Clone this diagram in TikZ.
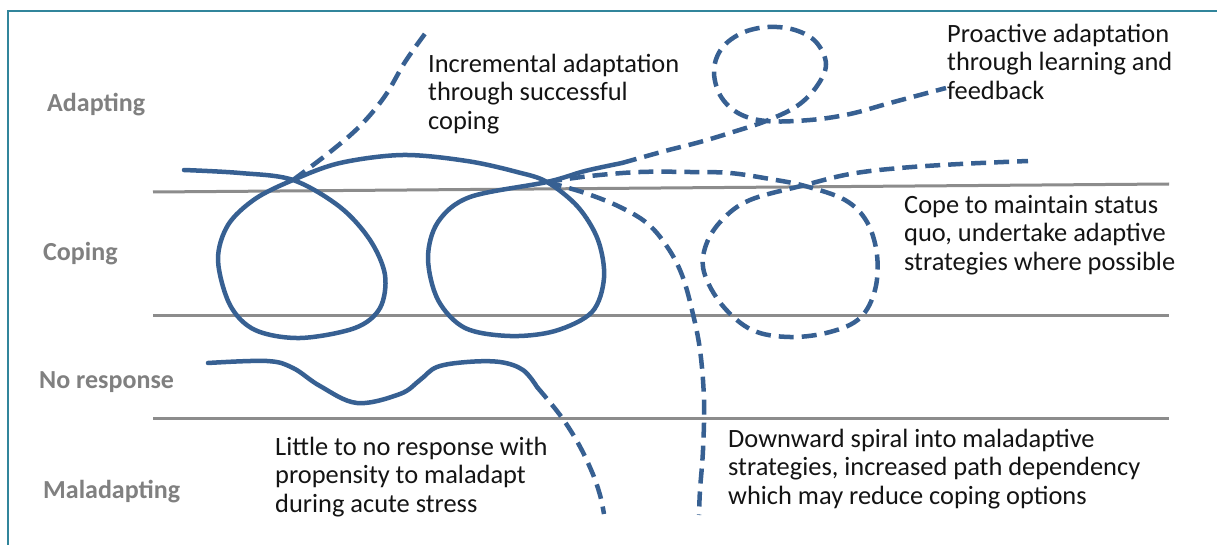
\documentclass[tikz,border=0pt]{standalone}
\usepackage{fontspec}
\setmainfont{Carlito}
\definecolor{curve}{RGB}{55,96,146}
\definecolor{band}{RGB}{140,140,140}
\definecolor{framec}{RGB}{49,133,155}
\definecolor{lab}{RGB}{128,128,128}
\definecolor{ink}{RGB}{20,20,20}
\begin{document}
\begin{tikzpicture}[x=1pt,y=-1pt,
  solidc/.style={draw=curve, line width=4.5pt, line cap=round, line join=round},
  dashc/.style={draw=curve, line width=4.5pt, dash pattern=on 15pt off 8pt},
  bandline/.style={draw=band, line width=3pt},
  zonelabel/.style={font=\fontsize{26}{28}\selectfont\bfseries, text=lab, anchor=base west, inner sep=0pt},
  note/.style={font=\fontsize{26.4}{28.7}\selectfont, text=ink, align=left, anchor=north west, inner sep=0pt}]
\useasboundingbox (0,0) rectangle (1217,545);
\fill[white] (0,0) rectangle (1217,545);
% frame
\draw[framec, line width=2pt] (8,560) -- (8,11) -- (1230,11);
% band lines
\draw[bandline] (153,192) -- (1169,184);
\draw[bandline] (153,315) -- (1169,315);
\draw[bandline] (153,418) -- (1169,418);
% zone labels
\node[zonelabel] (adapting) at (47,112) {Adapting};
\node[zonelabel] (coping) at (43,260) {Coping};
\node[zonelabel] (noresp) at (39,388) {No response};
\node[zonelabel] (malad) at (43,498) {Maladapting};
% notes
\node[note] (incr) at (428,52) {\strut Incremental adaptation\\through successful\\coping};
\node[note] (proact) at (947,22) {\strut Proactive adaptation\\through learning and\\feedback};
\node[note] (cope) at (904,193) {\strut Cope to maintain status\\quo, undertake adaptive\\strategies where possible};
\node[note] (little) at (275,435) {\strut Little to no response with\\propensity to maladapt\\during acute stress};
\node[note] (down) at (728,427) {\strut Downward spiral into maladaptive\\strategies, increased path dependency\\which may reduce coping options};
% solid double loop
\draw[solidc] plot[smooth, tension=0.55] coordinates {(184,170) (240,173) (293,180) (340,207) (370,240) (385,275) (380,308) (355,328) (300,338) (255,330) (230,305) (218,260) (228,225) (255,199) (293,180) (340,163) (403,155) (467,161) (517,172) (547,182) (578,207) (598,240) (604,278) (592,312) (555,331) (510,336) (465,328) (438,300) (428,258) (438,222) (470,197) (547,182) (585,171) (622,163)};
% incremental dashed
\draw[dashc] plot[smooth, tension=0.6] coordinates {(293,180) (330,152) (360,126) (385,96) (405,62) (427,31)};
% proactive dashed with small loop
\draw[dashc] plot[smooth, tension=0.6] coordinates {(622,163) (665,151) (700,142) (733,132) (766,121) (797,106) (817,86) (826,64) (816,42) (795,30) (768,27) (742,33) (722,48) (714,70) (720,95) (738,113) (766,121) (810,120) (850,114) (890,103) (946,88)};
% cope dashed loop
\draw[dashc] plot[smooth, tension=0.6] coordinates {(547,182) (590,176) (640,172) (690,172) (730,173) (770,179) (805,186) (845,200) (867,222) (877,255) (875,290) (860,318) (830,332) (790,337) (752,330) (722,305) (704,272) (706,245) (722,220) (750,200) (805,185) (850,174) (900,168) (960,164) (1028,161)};
% downward dashed
\draw[dashc] plot[smooth, tension=0.6] coordinates {(547,182) (585,193) (620,207) (648,224) (668,248) (682,275) (692,310) (700,350) (704,400) (703,450) (700,490) (699,515)};
% no response
\draw[solidc] plot[smooth, tension=0.6] coordinates {(208,363) (267,361) (293,368) (320,386) (357,403) (400,394) (420,380) (437,367) (467,362) (500,362) (523,370) (537,387)};
\draw[dashc] plot[smooth, tension=0.6] coordinates {(537,387) (560,415) (578,443) (592,472) (600,495) (604,514)};
\end{tikzpicture}
\end{document}
